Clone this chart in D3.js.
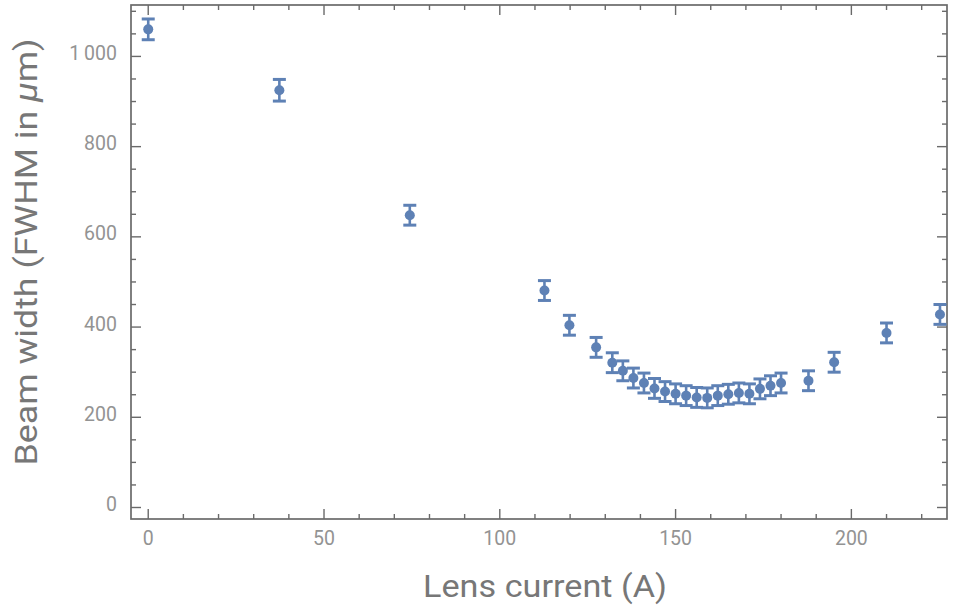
<!DOCTYPE html>
<html>
<head>
<meta charset="utf-8">
<script src="https://cdn.jsdelivr.net/npm/d3@7/dist/d3.min.js"></script>
<style>
  html, body { margin: 0; padding: 0; background: #fff; }
  svg { display: block; }
  text { font-family: Roboto, "Open Sans", sans-serif; }
</style>
</head>
<body>
<svg id="chart" width="953" height="606"></svg>
<script>
// Lens current (A) and measured beam width FWHM (µm) with uncertainty
const current = [0, 37.3, 74.4, 112.7, 119.8, 127.4,
  132, 135, 138, 141, 144, 147, 150, 153, 156, 159, 162, 165, 168, 171, 174, 177, 180,
  187.8, 195.1, 210, 225.2];
const width = [1060, 925, 648, 481, 404, 355,
  321, 303, 287, 276, 264, 257, 252, 248, 244, 243, 248, 251, 254, 252, 263, 270, 276,
  281, 322, 387, 428];
const widthErr = [23, 24, 22, 22, 22, 22,
  22, 22, 22, 22, 22, 22, 22, 22, 22, 22, 22, 22, 22, 22, 22, 22, 22,
  22, 22, 22, 22];

const xTicks = [0, 50, 100, 150, 200];
const yTicks = [0, 200, 400, 600, 800, 1000];
const yTickLabels = ["0", "200", "400", "600", "800", "1\u2009000"];

const margin = { left: 131, right: 6, top: 5, bottom: 87 };
const W = 953, H = 606;
const svg = d3.select("#chart");

const x = d3.scaleLinear().domain([-4.9, 227.2]).range([margin.left, W - margin.right]);
const y = d3.scaleLinear().domain([-25.5, 1114]).range([H - margin.bottom, margin.top]);

const axisColor = "#6a6a6a";
const labelColor = "#939393";
const titleColor = "#777777";
const markColor = "#5e81b5";

const x0 = margin.left, x1 = W - margin.right;
const y0 = H - margin.bottom, y1 = margin.top;

// Inward ticks on all four sides
const xMinor = d3.range(0, 230, 10);
const yMinor = d3.range(0, 1101, 50);
const tickG = svg.append("g").attr("stroke", axisColor).attr("stroke-width", 1.4);
xMinor.forEach(v => {
  const len = v % 50 === 0 ? 10 : 5;
  tickG.append("line").attr("x1", x(v)).attr("x2", x(v)).attr("y1", y0).attr("y2", y0 - len);
  tickG.append("line").attr("x1", x(v)).attr("x2", x(v)).attr("y1", y1).attr("y2", y1 + len);
});
yMinor.forEach(v => {
  const len = v % 200 === 0 ? 10 : 5;
  tickG.append("line").attr("y1", y(v)).attr("y2", y(v)).attr("x1", x0).attr("x2", x0 + len);
  tickG.append("line").attr("y1", y(v)).attr("y2", y(v)).attr("x1", x1).attr("x2", x1 - len);
});

// Frame
svg.append("rect")
  .attr("x", x0).attr("y", y1).attr("width", x1 - x0).attr("height", y0 - y1)
  .attr("fill", "none").attr("stroke", axisColor).attr("stroke-width", 1.7);

// Tick labels
svg.append("g").selectAll("text").data(xTicks).join("text")
  .attr("x", d => x(d)).attr("y", y0 + 26)
  .attr("text-anchor", "middle").attr("font-size", 19.5).attr("fill", labelColor)
  .text(d => d);
svg.append("g").selectAll("text").data(yTicks).join("text")
  .attr("x", x0 - 14).attr("y", d => y(d) + 3.5)
  .attr("text-anchor", "end").attr("font-size", 19.5).attr("fill", labelColor)
  .text((d, i) => yTickLabels[i]);

// Axis titles
svg.append("text")
  .attr("x", 545).attr("y", 597)
  .attr("text-anchor", "middle").attr("font-size", 32).attr("fill", titleColor)
  .attr("textLength", 244).attr("lengthAdjust", "spacingAndGlyphs")
  .text("Lens current (A)");
const yt = svg.append("text")
  .attr("transform", "translate(37,252) rotate(-90)")
  .attr("text-anchor", "middle").attr("font-size", 32).attr("fill", titleColor)
  .attr("textLength", 427).attr("lengthAdjust", "spacingAndGlyphs");
yt.append("tspan").text("Beam width (FWHM in ");
yt.append("tspan").attr("font-style", "italic").text("\u03bc");
yt.append("tspan").text("m)");

// Error bars and points
const pts = current.map((c, i) => ({ c, w: width[i], e: widthErr[i] }));
const eb = svg.append("g").attr("stroke", markColor).attr("stroke-width", 2.6);
pts.forEach(p => {
  eb.append("line").attr("x1", x(p.c)).attr("x2", x(p.c))
    .attr("y1", y(p.w - p.e)).attr("y2", y(p.w + p.e));
  [p.w - p.e, p.w + p.e].forEach(v => {
    eb.append("line").attr("x1", x(p.c) - 6.5).attr("x2", x(p.c) + 6.5)
      .attr("y1", y(v)).attr("y2", y(v)).attr("stroke-width", 3);
  });
});
svg.append("g").selectAll("circle").data(pts).join("circle")
  .attr("cx", d => x(d.c)).attr("cy", d => y(d.w)).attr("r", 5)
  .attr("fill", markColor);
</script>
</body>
</html>
